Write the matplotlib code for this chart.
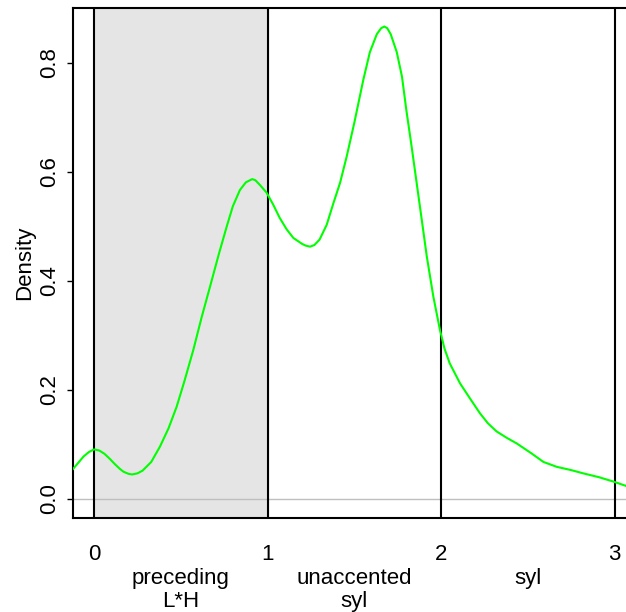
import matplotlib.pyplot as plt
from matplotlib import transforms

plt.rcParams['font.family'] = ['Liberation Sans', 'DejaVu Sans']

# density curve
dens_x = [-0.121, -0.06, -0.03, 0.0, 0.03, 0.06, 0.09, 0.12, 0.15, 0.17, 0.20,
          0.22, 0.25, 0.28, 0.33, 0.38, 0.43, 0.476, 0.52, 0.572, 0.62, 0.669,
          0.72, 0.765, 0.80, 0.841, 0.875, 0.899, 0.912, 0.93, 0.957, 0.995,
          1.033, 1.07, 1.11, 1.149, 1.20, 1.22, 1.245, 1.27, 1.30, 1.341, 1.38,
          1.418, 1.456, 1.50, 1.552, 1.59, 1.63, 1.655, 1.673, 1.69, 1.71,
          1.745, 1.775, 1.80, 1.83, 1.86, 1.89, 1.918, 1.956, 1.994, 2.02, 2.05,
          2.11, 2.17, 2.225, 2.27, 2.32, 2.38, 2.436, 2.52, 2.59, 2.667, 2.75,
          2.82, 2.91, 2.993, 3.066]
dens_y = [0.055, 0.078, 0.086, 0.091, 0.089, 0.083, 0.074, 0.064, 0.055, 0.050,
          0.046, 0.045, 0.047, 0.052, 0.068, 0.096, 0.130, 0.169, 0.215, 0.273,
          0.333, 0.390, 0.450, 0.500, 0.537, 0.567, 0.581, 0.585, 0.587, 0.585,
          0.576, 0.562, 0.540, 0.516, 0.495, 0.479, 0.468, 0.465, 0.463, 0.466,
          0.476, 0.503, 0.543, 0.580, 0.628, 0.690, 0.769, 0.820, 0.853, 0.864,
          0.867, 0.864, 0.853, 0.820, 0.775, 0.714, 0.648, 0.579, 0.510, 0.445,
          0.371, 0.310, 0.276, 0.249, 0.212, 0.183, 0.157, 0.139, 0.124, 0.112,
          0.102, 0.084, 0.068, 0.059, 0.053, 0.047, 0.040, 0.032, 0.024]

boundaries = [0, 1, 2, 3]
tick_labels = ['0', '1', '2', '3']
region_centers = [0.5, 1.5, 2.5]
region_names = ['preceding\nL*H', 'unaccented\nsyl', 'syl']

fig = plt.figure(figsize=(6.26, 6.12), dpi=100)
ax = fig.add_axes([73/626, 94/612, 587/626, 510/612])

ax.axvspan(0, 1, color='#e5e5e5', zorder=0)
ax.axhline(0, color='#bebebe', lw=1, zorder=1)
for b in boundaries:
    ax.axvline(b, color='black', lw=1.5, zorder=2)
ax.plot(dens_x, dens_y, color='#00ff00', lw=1.5, zorder=3)

ax.set_xlim(-0.121, 3.262)
ax.set_ylim(-0.0349, 0.901)

ax.set_xticks(boundaries)
ax.set_xticklabels(tick_labels)
ax.set_yticks([0.0, 0.2, 0.4, 0.6, 0.8])
ax.set_yticklabels(['0.0', '0.2', '0.4', '0.6', '0.8'], rotation=90, va='center')
ax.tick_params(axis='x', length=0, pad=18.5, labelsize=16)
ax.tick_params(axis='y', length=4.5, width=1, pad=4.5, labelsize=16)
ax.set_ylabel('Density', fontsize=16, labelpad=3.5)

for s in ax.spines.values():
    s.set_linewidth(1.5)

trans = transforms.blended_transform_factory(ax.transData, fig.transFigure)
for cx, name in zip(region_centers, region_names):
    fig.text(cx, 1 - 568/612, name, transform=trans, ha='center', va='top',
             fontsize=16, linespacing=1.12)

fig.savefig('out.png', dpi=100)
